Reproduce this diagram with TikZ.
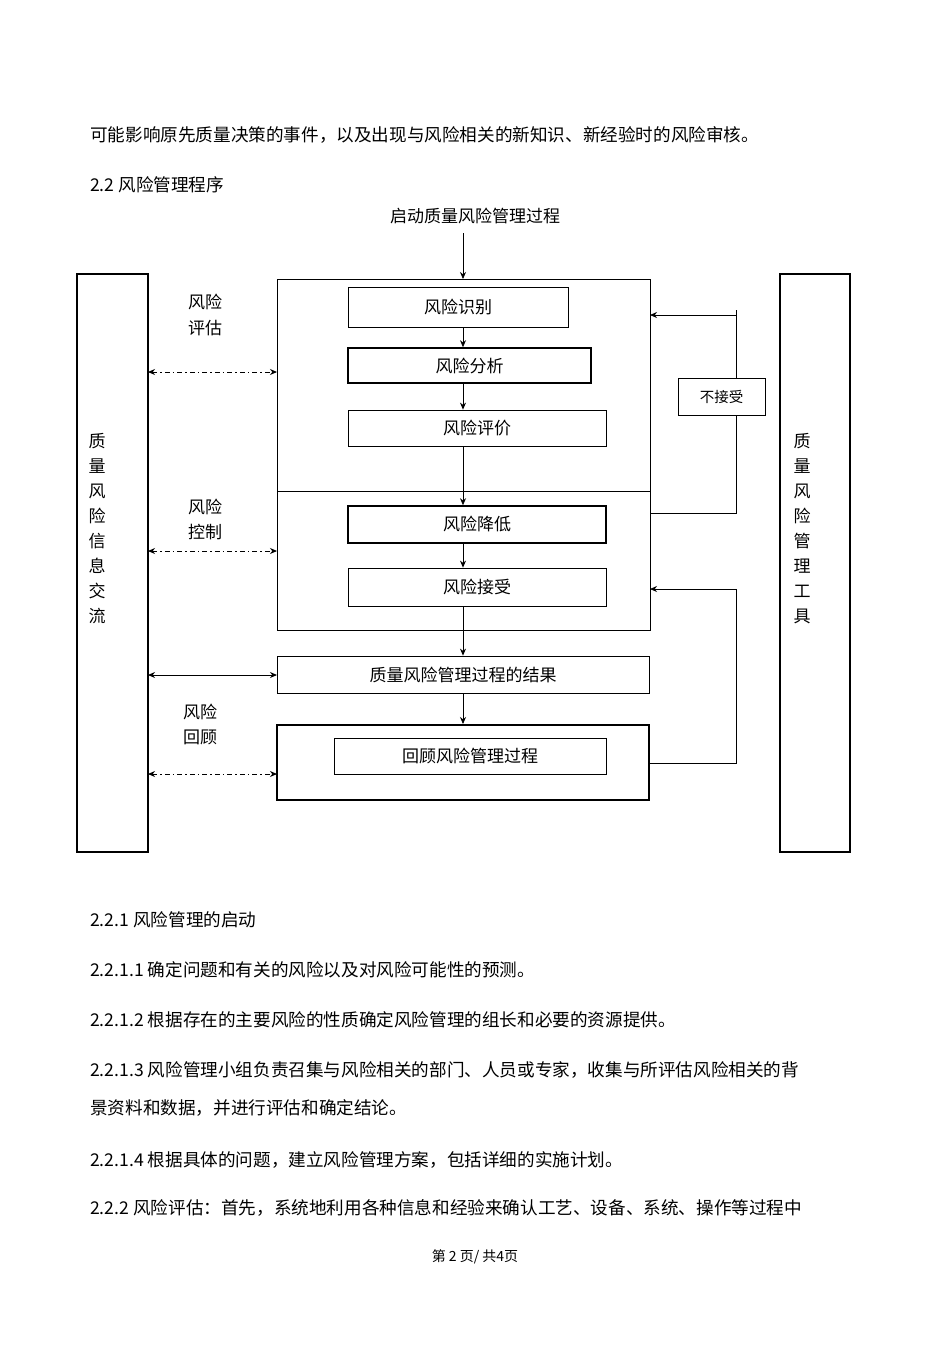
\documentclass[tikz,border=0pt]{standalone}
\usepackage{fontspec}
\setmainfont{Noto Sans CJK SC}
\usetikzlibrary{arrows.meta}
\begin{document}
\begin{tikzpicture}[x=1pt,y=-1pt,
  bx/.style={draw,line width=0.8pt,inner sep=0},
  tk/.style={draw,line width=1.6pt,inner sep=0},
  ar/.style={-{Stealth[length=7pt,width=6pt]},line width=0.8pt},
  dd/.style={{Stealth[length=7pt,width=6pt]}-{Stealth[length=7pt,width=6pt]},line width=0.9pt,dash pattern=on 5pt off 3pt on 1.5pt off 3pt},
  sd/.style={{Stealth[length=7pt,width=6pt]}-{Stealth[length=7pt,width=6pt]},line width=0.9pt},
  para/.style={anchor=west,font=\fontsize{17.6}{20}\selectfont,inner sep=0},
  lab/.style={font=\fontsize{17}{19}\selectfont,inner sep=0}]
\useasboundingbox (0,0) rectangle (950,1345);
\node[para] (p1) at (90,135) {可能影响原先质量决策的事件，以及出现与风险相关的新知识、新经验时的风险审核。};
\node[para] (p2) at (90,185) {2.2 风险管理程序};
\node[lab] (start) at (475,216) {启动质量风险管理过程};
% side boxes
\draw[line width=1.2pt] (77,274) rectangle (148,852);
\draw[line width=1.2pt] (780,274) rectangle (850,852);
\foreach \c [count=\i] in {质,量,风,险,信,息,交,流}
  \node[lab] at (97,441+25*\i-25) {\c};
\foreach \c [count=\i] in {质,量,风,险,管,理,工,具}
  \node[lab] at (802,441+25*\i-25) {\c};
% big box
\draw[line width=0.8pt] (277,279) rectangle (650,630);
\draw[line width=0.8pt] (277,491) -- (650,491);
\coordinate (bigtop) at (463,279);
\coordinate (s0) at (463,233);
\draw[ar] (s0) -- (bigtop);
\node[bx,minimum width=220,minimum height=40] (n1) at (458,307) {\fontsize{17}{19}\selectfont 风险识别};
\node[tk,minimum width=243,minimum height=35] (n2) at (469.5,365.5) {\fontsize{17}{19}\selectfont 风险分析};
\node[bx,minimum width=258,minimum height=36] (n3) at (477,428) {\fontsize{17}{19}\selectfont 风险评价};
\node[tk,minimum width=258,minimum height=37] (n4) at (477,524.5) {\fontsize{17}{19}\selectfont 风险降低};
\node[bx,minimum width=258,minimum height=38] (n5) at (477,587) {\fontsize{17}{19}\selectfont 风险接受};
\node[bx,minimum width=372,minimum height=37] (n6) at (463,674.5) {\fontsize{17}{19}\selectfont 质量风险管理过程的结果};
\node[draw,line width=2pt,minimum width=372,minimum height=75] (n7) at (463,762.5) {};
\node[bx,minimum width=272,minimum height=36] (n8) at (470,756) {\fontsize{17}{19}\selectfont 回顾风险管理过程};
\node[bx,minimum width=87,minimum height=37] (na) at (721.5,396.5) {\fontsize{14.5}{16}\selectfont 不接受};
\draw[ar] (n1.south -| 463,0) -- (n2.north -| 463,0);
\draw[ar] (n2.south -| 463,0) -- (n3.north -| 463,0);
\draw[ar] (n3.south -| 463,0) -- (n4.north -| 463,0);
\draw[ar] (n4.south -| 463,0) -- (n5.north -| 463,0);
\draw[ar] (n5.south -| 463,0) -- (n6.north -| 463,0);
\draw[ar] (n6.south -| 463,0) -- (n7.north -| 463,0);
% feedback
\coordinate (f1) at (650,513);
\coordinate (f2) at (650,315);
\coordinate (f3) at (650,763);
\coordinate (f4) at (650,589);
\draw[line width=0.8pt] (f1) -| (736,415);
\draw[line width=0.8pt] (736,378) -- (736,310);
\draw[ar] (736,315) -- (f2);
\draw[ar] (f3) -| (736,589) -- (f4);
% side arrows
\coordinate (l1) at (148,372); \coordinate (r1) at (277,372);
\coordinate (l2) at (148,551); \coordinate (r2) at (277,551);
\coordinate (l3) at (148,675); \coordinate (r3) at (277,675);
\coordinate (l4) at (148,774); \coordinate (r4) at (277,774);
\draw[dd] (l1) -- (r1);
\draw[dd] (l2) -- (r2);
\draw[sd] (l3) -- (r3);
\draw[dd] (l4) -- (r4);
\node[lab] at (205,302) {风险}; \node[lab] at (205,328) {评估};
\node[lab] at (205,507) {风险}; \node[lab] at (205,532) {控制};
\node[lab] at (200,712) {风险}; \node[lab] at (200,737) {回顾};
% paragraphs
\node[para] at (90,920) {2.2.1 风险管理的启动};
\node[para] at (90,970) {2.2.1.1 确定问题和有关的风险以及对风险可能性的预测。};
\node[para] at (90,1020) {2.2.1.2 根据存在的主要风险的性质确定风险管理的组长和必要的资源提供。};
\node[para] at (90,1070) {2.2.1.3 风险管理小组负责召集与风险相关的部门、人员或专家，收集与所评估风险相关的背};
\node[para] at (90,1108) {景资料和数据，并进行评估和确定结论。};
\node[para] at (90,1160) {2.2.1.4 根据具体的问题，建立风险管理方案，包括详细的实施计划。};
\node[para] at (90,1208) {2.2.2 风险评估：首先，系统地利用各种信息和经验来确认工艺、设备、系统、操作等过程中};
\node[lab,font=\fontsize{14}{16}\selectfont] at (475,1257) {第 2 页/ 共4页};
\end{tikzpicture}
\end{document}
